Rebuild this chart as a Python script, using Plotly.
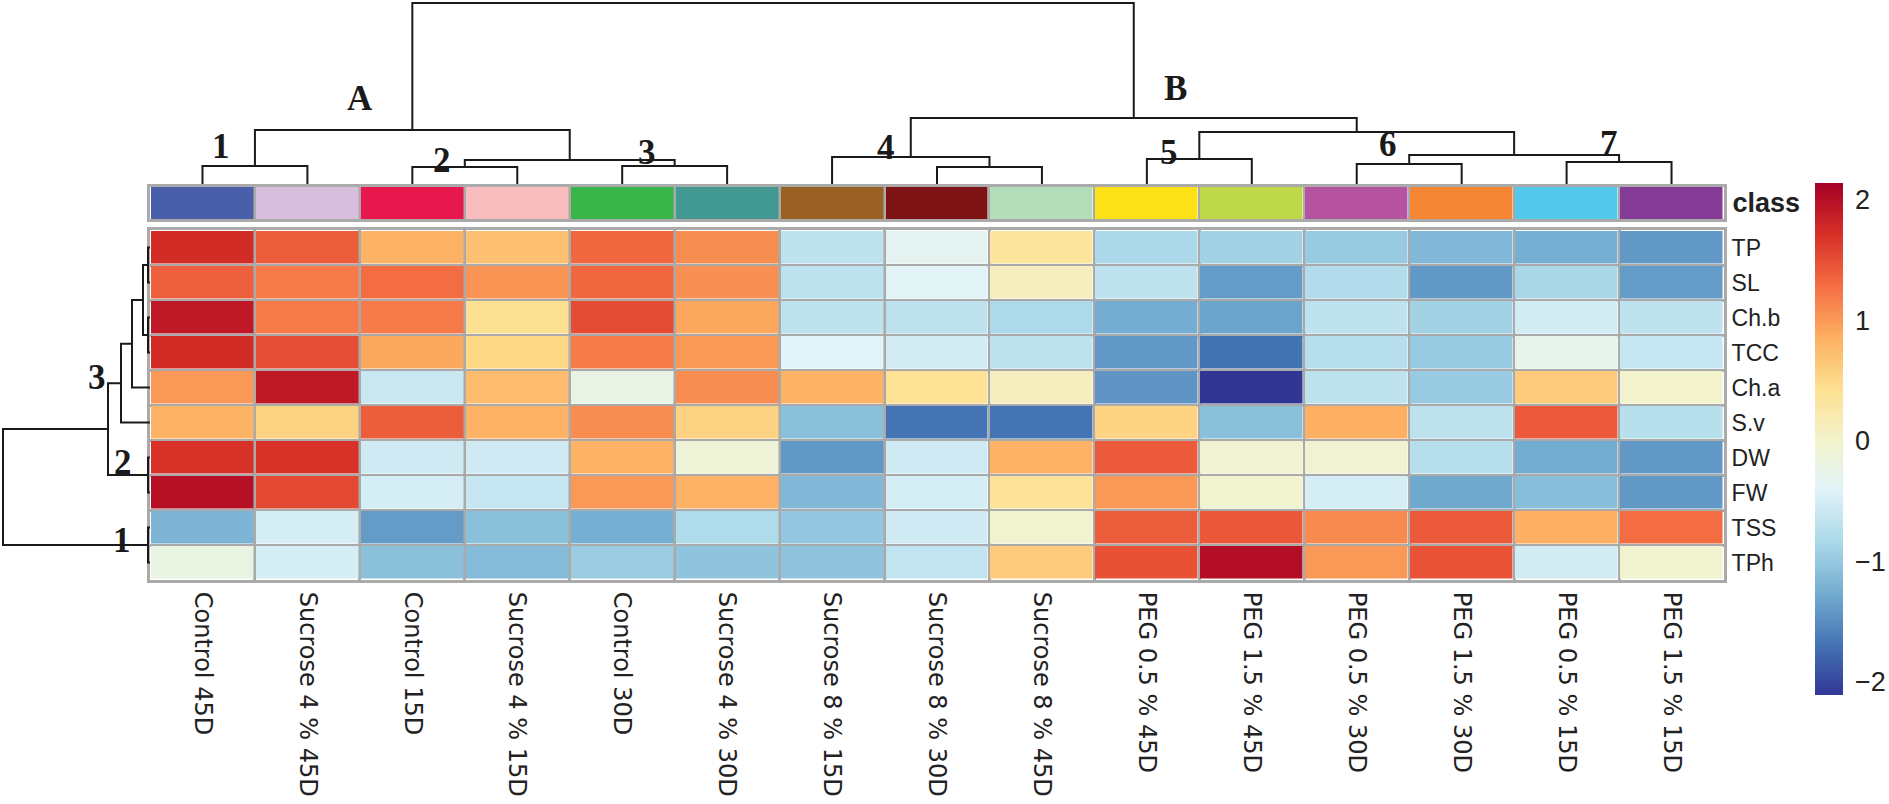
import plotly.graph_objects as go

# ---------------- data ----------------
samples = ["Control 45D", "Sucrose 4 % 45D", "Control 15D", "Sucrose 4 % 15D",
           "Control 30D", "Sucrose 4 % 30D", "Sucrose 8 % 15D", "Sucrose 8 % 30D",
           "Sucrose 8 % 45D", "PEG 0.5 % 45D", "PEG 1.5 % 45D", "PEG 0.5 % 30D",
           "PEG 1.5 % 30D", "PEG 0.5 % 15D", "PEG 1.5 % 15D"]
traits = ["TP", "SL", "Ch.b", "TCC", "Ch.a", "S.v", "DW", "FW", "TSS", "TPh"]

TP  = [1.75, 1.40, 0.82, 0.72, 1.33, 1.08, -0.68, -0.33, 0.35, -0.83, -0.90, -0.98, -1.15, -1.24, -1.42]
SL  = [1.38, 1.20, 1.30, 1.03, 1.33, 1.06, -0.69, -0.38, 0.10, -0.68, -1.40, -0.78, -1.42, -0.85, -1.40]
Chb = [1.92, 1.20, 1.20, 0.42, 1.52, 0.90, -0.68, -0.69, -0.82, -1.26, -1.33, -0.68, -0.90, -0.52, -0.68]
TCC = [1.75, 1.50, 0.90, 0.52, 1.20, 1.00, -0.40, -0.52, -0.68, -1.42, -1.70, -0.75, -0.98, -0.28, -0.62]
Cha = [1.00, 1.92, -0.60, 0.75, -0.22, 1.08, 0.82, 0.40, 0.10, -1.45, -2.11, -0.68, -0.98, 0.62, 0.00]
Sv  = [0.82, 0.56, 1.40, 0.82, 1.08, 0.56, -1.08, -1.69, -1.69, 0.55, -1.08, 0.85, -0.69, 1.42, -0.74]
DW  = [1.70, 1.70, -0.55, -0.55, 0.82, -0.10, -1.42, -0.55, 0.82, 1.42, -0.05, -0.05, -0.75, -1.27, -1.42]
FW  = [2.00, 1.55, -0.50, -0.62, 1.00, 0.83, -1.15, -0.50, 0.38, 1.00, -0.03, -0.50, -1.30, -1.10, -1.42]
TSS = [-1.18, -0.50, -1.40, -1.08, -1.24, -0.80, -1.02, -0.55, -0.03, 1.40, 1.44, 1.10, 1.42, 0.85, 1.30]
TPh = [-0.20, -0.50, -1.08, -1.13, -0.97, -1.04, -1.05, -0.65, 0.62, 1.48, 2.02, 1.00, 1.47, -0.52, -0.03]

class_colors = ["#4A5FAA", "#D8BEDD", "#E8174E", "#F9BCBF", "#3AB54A", "#419991",
                "#9A6124", "#7E1316", "#B3DCB8", "#FBE115", "#BED849", "#B653A0",
                "#F58634", "#52C8EA", "#853C96"]

# linkage: (child_a, child_b, height); leaves 0..n-1, merges n, n+1, ...
col_merges = [(0, 1, 18), (2, 3, 17), (4, 5, 18), (16, 17, 24), (15, 18, 54),
              (7, 8, 17), (6, 20, 27), (9, 10, 25), (11, 12, 20), (13, 14, 22),
              (23, 24, 29), (22, 25, 52), (21, 26, 66), (19, 27, 181)]
row_merges = [(0, 1, 2), (2, 3, 2), (10, 11, 7), (12, 4, 18), (13, 5, 29),
              (6, 7, 2), (14, 15, 42), (8, 9, 2), (16, 17, 147)]

col_labels = [("A", 1.50, 86), ("1", 0.18, 38), ("2", 2.28, 24), ("3", 4.24, 32),
              ("B", 9.27, 96), ("4", 6.51, 37), ("5", 9.21, 32), ("6", 11.30, 40),
              ("7", 13.40, 41)]
row_labels = [("3", 53, 3.70), ("2", 27, 6.13), ("1", 28.5, 8.36)]

zmin, zmax = -2.11, 2.14
rdylbu = ["#313695", "#4575B4", "#74ADD1", "#ABD9E9", "#E0F3F8", "#F3F2CB",
          "#FEE090", "#FDAE61", "#F46D43", "#D73027", "#A50026"]

# ---------------- geometry ----------------
W, H = 1889, 804
def px(v):
    return v / W
def py(v):
    return 1 - v / H

hm_x = [px(150), px(1724)]
hm_y = [py(580), py(230)]
cls_y = [py(219), py(187)]
cden_y = [py(184), 1.0]
rden_x = [0.0, px(150)]
GRID = "#AAAAAA"
LINE = "#1a1a1a"


def dendro(merges, n):
    pos = list(range(n))
    hts = [0] * n
    a_s, b_s = [], []
    for a, b, h in merges:
        pa, pb = pos[a], pos[b]
        a_s += [pa, pa, pb, pb, None]
        b_s += [hts[a], h, h, hts[b], None]
        pos.append((pa + pb) / 2)
        hts.append(h)
    return a_s, b_s


z = [TP, SL, Chb, TCC, Cha, Sv, DW, FW, TSS, TPh]
ncol, nrow = len(samples), len(traits)

fig = go.Figure()
fig.add_trace(go.Heatmap(
    z=z, x=list(range(ncol)), y=list(range(nrow)),
    colorscale=[[i / (len(rdylbu) - 1), c] for i, c in enumerate(rdylbu)],
    zmin=zmin, zmax=zmax, xgap=2.5, ygap=2.5, xaxis="x", yaxis="y",
    colorbar=dict(x=px(1815), xanchor="left", y=py(439), yanchor="middle",
                  len=512, lenmode="pixels", thickness=28, thicknessmode="pixels",
                  xpad=0, ypad=0, outlinewidth=0,
                  tickvals=[-2, -1, 0, 1, 2], ticktext=["\u22122", "\u22121", "0", "1", "2"],
                  ticks="outside", ticklen=7, tickcolor="rgba(0,0,0,0)",
                  tickfont=dict(family="Liberation Sans", size=27, color="#222"))))
fig.add_trace(go.Heatmap(
    z=[list(range(ncol))], x=list(range(ncol)), y=[0],
    colorscale=[[i / (ncol - 1), c] for i, c in enumerate(class_colors)],
    zmin=0, zmax=ncol - 1, showscale=False, xgap=2.5, xaxis="x2", yaxis="y2"))

rx, ry = dendro(row_merges, nrow)
fig.add_trace(go.Scatter(x=ry, y=rx, mode="lines", line=dict(color=LINE, width=2),
                         xaxis="x3", yaxis="y3", cliponaxis=False, showlegend=False))
cx, cy = dendro(col_merges, ncol)
fig.add_trace(go.Scatter(x=cx, y=cy, mode="lines", line=dict(color=LINE, width=2),
                         xaxis="x4", yaxis="y4", cliponaxis=False, showlegend=False))

xbounds = [k - 0.5 for k in range(ncol + 1)]
ybounds = [k - 0.5 for k in range(nrow + 1)]
frame = dict(showline=True, mirror=True, linecolor=GRID, linewidth=3, zeroline=False, showgrid=False)

fig.update_layout(
    width=W, height=H, margin=dict(l=0, r=0, t=0, b=0),
    paper_bgcolor="white", plot_bgcolor="white", showlegend=False,
    xaxis=dict(domain=hm_x, range=[-0.5, ncol - 0.5], anchor="y",
               tickmode="array", tickvals=list(range(ncol)), ticktext=samples,
               tickangle=90, ticks="outside", ticklen=4, tickcolor="rgba(0,0,0,0)",
               tickfont=dict(family="DejaVu Sans", size=24, color="#222"),
               minor=dict(tickmode="array", tickvals=xbounds, showgrid=True,
                          gridcolor=GRID, gridwidth=2.5, ticks=""), **frame),
    yaxis=dict(domain=hm_y, range=[nrow - 0.5, -0.5], anchor="x", side="right",
               tickmode="array", tickvals=list(range(nrow)), ticktext=traits,
               ticks="",
               tickfont=dict(family="Liberation Sans", size=23, color="#222"),
               minor=dict(tickmode="array", tickvals=ybounds, showgrid=True,
                          gridcolor=GRID, gridwidth=2.5, ticks=""), **frame),
    xaxis2=dict(domain=hm_x, range=[-0.5, ncol - 0.5], anchor="y2", showticklabels=False,
                minor=dict(tickmode="array", tickvals=xbounds, showgrid=True,
                           gridcolor=GRID, gridwidth=2.5, ticks=""), **frame),
    yaxis2=dict(domain=cls_y, range=[-0.5, 0.5], anchor="x2", side="right",
                tickmode="array", tickvals=[0], ticktext=["<b>class</b>"],
                ticks="",
                tickfont=dict(family="Liberation Sans", size=27, color="#222"), **frame),
    xaxis3=dict(domain=rden_x, range=[150, 0], anchor="y3", visible=False),
    yaxis3=dict(domain=hm_y, range=[nrow - 0.5, -0.5], anchor="x3", visible=False),
    xaxis4=dict(domain=hm_x, range=[-0.5, ncol - 0.5], anchor="y4", visible=False),
    yaxis4=dict(domain=cden_y, range=[0, 184], anchor="x4", visible=False),
)

serif = dict(family="Liberation Serif", size=35, color=LINE)
for t, xv, yv in col_labels:
    fig.add_annotation(text="<b>%s</b>" % t, x=xv, y=yv, xref="x4", yref="y4",
                       showarrow=False, font=serif)
for t, xv, yv in row_labels:
    fig.add_annotation(text="<b>%s</b>" % t, x=xv, y=yv, xref="x3", yref="y3",
                       showarrow=False, font=serif)

fig.write_html("out.html", config={"displayModeBar": False},
               post_script="document.body.style.margin='0px';document.body.style.overflow='hidden';")
